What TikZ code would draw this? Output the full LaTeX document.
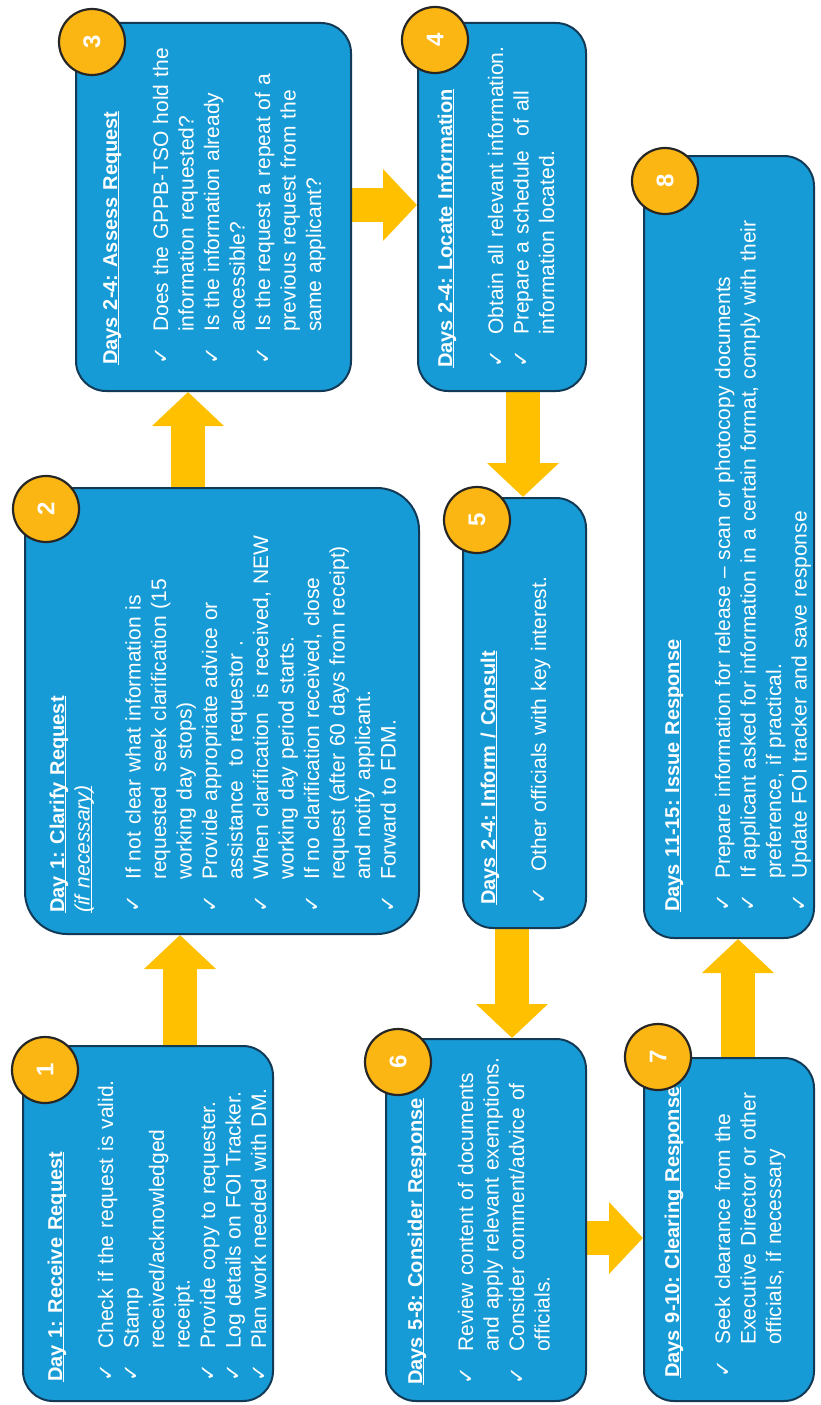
\documentclass[tikz,border=0pt]{standalone}
\usepackage{fontspec}
\setmainfont{Liberation Sans}
\newfontfamily\chkfont{DejaVu Sans}
\usetikzlibrary{arrows.meta,backgrounds}
\frenchspacing

\definecolor{boxblue}{RGB}{22,155,214}
\definecolor{boxedge}{RGB}{18,58,86}
\definecolor{arrowgold}{RGB}{255,192,0}
\definecolor{badgegold}{RGB}{252,182,20}
\definecolor{badgeedge}{RGB}{38,38,38}

\newcommand{\ck}{\makebox[33pt][l]{\chkfont\fontsize{21}{21}\selectfont ✓}}
\newcommand{\ind}{\hspace*{33pt}}
\newcommand{\head}[1]{\rule{0pt}{15pt}{\bfseries\fontsize{20}{25.5}\selectfont\underline{\smash{#1}}}}

\tikzset{
  box/.style={draw=boxedge, fill=boxblue, line width=2pt, rounded corners=30pt, anchor=north west, inner sep=0pt},
  txt/.style={rotate=90, anchor=north west, inner sep=0pt, text=white, align=left, text width=780pt, font=\fontsize{21}{25.5}\selectfont},
  badge/.style={circle, draw=badgeedge, fill=badgegold, line width=2.2pt, minimum size=66pt, inner sep=0pt, text=white, rotate=90, font=\bfseries\fontsize{24}{24}\selectfont},
  bigarrow/.style={draw=arrowgold, line width=34pt, -{Triangle[length=34pt,width=70pt]}}
}

\begin{document}
\begin{tikzpicture}[x=1pt,y=1pt]
	\useasboundingbox (0,-1405) rectangle (821,0);
	% boxes
	\node[box, minimum width=250pt, minimum height=355pt] (b1) at (22,-1045) {};
	\node[box, rounded corners=42pt, minimum width=394pt, minimum height=446pt] (b2) at (24,-487) {};
	\node[box, minimum width=275pt, minimum height=368pt] (b3) at (75,-22) {};
	\node[box, minimum width=168pt, minimum height=368pt] (b4) at (417,-22) {};
	\node[box, minimum width=123pt, minimum height=430pt] (b5) at (462,-497) {};
	\node[box, minimum width=200pt, minimum height=362pt] (b6) at (385,-1038) {};
	\node[box, minimum width=170pt, minimum height=343pt] (b7) at (643,-1057) {};
	\node[box, minimum width=170pt, minimum height=782pt] (b8) at (643,-155) {};
	% texts
	\node[txt] (t1) at (47,-1382) {\head{Day 1: Receive Request}\\[25.5pt]
		\ck Check if the request is valid.\\
		\ck Stamp\\
		\ind received/acknowledged\\
		\ind receipt.\\
		\ck Provide copy to requester.\\
		\ck Log details on FOI Tracker.\\
		\ck Plan work needed with DM.};
	\node[txt] (t2) at (49,-913) {\head{Day 1: Clarify Request}\\
		{\itshape\underline{\smash{(if necessary)}}}\\[25.5pt]
		\ck If not clear what information is\\
		\ind requested\ \ seek clarification (15\\
		\ind working day stops)\\
		\ck Provide appropriate advice or\\
		\ind assistance\ \ to requestor\ .\\
		\ck When clarification\ \ is received, NEW\\
		\ind working day period starts.\\
		\ck If no clarification received, close\\
		\ind request (after 60 days from receipt)\\
		\ind and notify applicant.\\
		\ck Forward to FDM.};
	\node[txt] (t3) at (102,-365) {\head{Days 2-4: Assess Request}\\[25.5pt]
		\ck Does the GPPB-TSO hold the\\
		\ind information requested?\\
		\ck Is the information already\\
		\ind accessible?\\
		\ck Is the request a repeat of a\\
		\ind previous request from the\\
		\ind same applicant?};
	\node[txt] (t4) at (437,-368) {\head{Days 2-4: Locate Information}\\[25.5pt]
		\ck Obtain all relevant information.\\
		\ck Prepare a schedule\ \ of all\\
		\ind information located.};
	\node[txt] (t5) at (480,-905) {\head{Days 2-4: Inform / Consult}\\[25.5pt]
		\ck Other officials with key interest.};
	\node[txt] (t6) at (407,-1385) {\head{Days 5-8: Consider Response}\\[25.5pt]
		\ck Review content of documents\\
		\ind and apply relevant exemptions.\\
		\ck Consider comment/advice of\\
		\ind officials.};
	\node[txt] (t7) at (664,-1378) {\head{Days 9-10: Clearing Response}\\[25.5pt]
		\ck Seek clearance from the\\
		\ind Executive Director or other\\
		\ind officials, if necessary};
	\node[txt] (t8) at (664,-912) {\head{Days 11-15: Issue Response}\\[25.5pt]
		\ck Prepare information for release -- scan or photocopy documents\\
		\ck If applicant asked for information in a certain format, comply with their\\
		\ind preference, if practical.\\
		\ck Update FOI tracker and save response};
	% number badges
	\foreach \i/\x/\y in {1/45/-1070, 2/46/-509, 3/92/-42, 4/435/-40, 5/477/-520, 6/398/-1062, 7/658/-1057, 8/665/-181} {
		\node[badge] (n\i) at (\x,\y) {\i};
	}
	% arrows
	\begin{scope}[on background layer]
		\draw[bigarrow] (b1.north -| 180,0) -- (b2.south -| 180,0);
		\draw[bigarrow] (b2.north -| 188,0) -- (b3.south -| 188,0);
		\draw[bigarrow] (b3.east |- 0,-205) -- (b4.west |- 0,-205);
		\draw[bigarrow] (b4.south -| 523,0) -- (b5.north -| 523,0);
		\draw[bigarrow] (b5.south -| 512,0) -- (b6.north -| 512,0);
		\draw[bigarrow] (b6.east |- 0,-1238) -- (b7.west |- 0,-1238);
		\draw[bigarrow] (b7.north -| 738,0) -- (b8.south -| 738,0);
	\end{scope}
\end{tikzpicture}
\end{document}
